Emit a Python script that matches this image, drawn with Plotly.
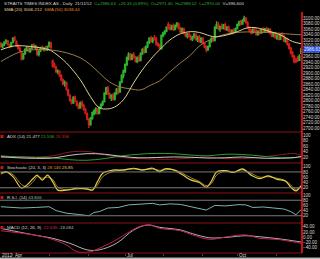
import plotly.graph_objects as go
import pandas as pd

# ---------------- data ----------------
dates = pd.bdate_range("2012-03-22", "2012-11-21")  # 175 trading days

opens = [3005,2995,3003,3014,3016,3000,2996,3012,3026,3015,2998,2988,2975,2952,2970,2986,2990,2978,2990,3000,
         2992,2995,2968,2980,2990,2986,2990,2985,2998,3008,2945,2930,2920,2905,2906,2890,2874,2860,2864,2838,
         2818,2800,2790,2812,2796,2782,2772,2790,2780,2766,2752,2730,2712,2735,2752,2760,2768,2752,2775,2786,
         2795,2826,2845,2824,2810,2818,2805,2826,2840,2830,2866,2890,2905,2930,2955,2968,2950,2965,2958,2942,
         2955,2945,2970,2985,2975,2995,3010,3025,3015,3026,3022,3005,3000,2988,3036,3045,3052,3075,3064,3060,
         3070,3058,3072,3080,3062,3050,3060,3045,3035,3040,3032,3022,3030,3040,3020,3030,3012,3026,3008,2995,
         2985,2996,3016,3025,3018,3066,3075,3060,3068,3062,3074,3058,3066,3052,3045,3055,3048,3060,3075,3085,
         3078,3090,3098,3082,3065,3055,3048,3058,3050,3040,3052,3045,3058,3052,3060,3050,3058,3044,3035,3045,
         3028,3036,3022,3040,3035,3016,3025,3004,2990,2972,2960,2945,2952,2946,2971.40]
highs = [3012,3008,3015,3022,3020,3006,3012,3030,3034,3018,3004,2996,2980,2972,2990,2998,2995,2992,3005,3008,
         3002,2998,2982,2995,3000,2995,2998,3000,3015,3012,2948,2938,2925,2912,2910,2895,2880,2872,2868,2842,
         2822,2805,2815,2818,2800,2790,2796,2800,2788,2772,2756,2735,2740,2760,2768,2775,2772,2778,2790,2800,
         2830,2850,2852,2830,2822,2826,2830,2845,2848,2870,2895,2912,2935,2960,2975,2972,2970,2975,2962,2960,
         2965,2975,2990,2995,3000,3015,3030,3035,3030,3038,3032,3012,3006,3040,3050,3056,3070,3085,3078,3075,
         3080,3076,3085,3082,3068,3065,3064,3050,3045,3048,3040,3035,3045,3044,3035,3038,3030,3030,3012,3000,
         3000,3020,3030,3032,3070,3088,3085,3072,3080,3078,3082,3070,3072,3060,3058,3062,3065,3080,3090,3092,
         3095,3108,3102,3088,3070,3060,3062,3065,3062,3055,3060,3062,3066,3064,3068,3062,3062,3052,3048,3050,
         3040,3042,3045,3048,3038,3030,3028,3008,2994,2980,2965,2955,2962,2968,2988.02]
lows = [2992,2990,2998,3005,3000,2990,2994,3008,3015,2995,2985,2975,2945,2948,2965,2978,2975,2972,2985,2990,
        2985,2962,2960,2975,2982,2978,2980,2980,2992,2988,2920,2918,2900,2895,2885,2870,2855,2850,2835,2815,
        2795,2785,2788,2795,2778,2768,2770,2778,2762,2750,2728,2700,2708,2730,2745,2750,2748,2750,2770,2780,
        2792,2820,2820,2805,2798,2800,2800,2820,2822,2828,2862,2880,2900,2925,2945,2945,2946,2952,2938,2935,
        2940,2942,2965,2970,2972,2990,3005,3010,3008,3018,3000,2995,2985,2985,3030,3038,3048,3058,3055,3055,
        3052,3055,3065,3058,3045,3045,3040,3030,3025,3028,3018,3015,3025,3018,3012,3010,3008,3005,2990,2975,
        2980,2992,3010,3012,3016,3060,3055,3050,3058,3058,3055,3052,3048,3040,3040,3042,3045,3058,3070,3072,
        3075,3085,3080,3060,3050,3040,3042,3045,3035,3035,3040,3042,3048,3045,3048,3045,3040,3030,3030,3025,
        3020,3018,3020,3030,3012,3010,3000,2985,2968,2955,2935,2935,2940,2944,2970.00]
closes = [2996,3004,3012,3018,3004,2995,3010,3026,3022,2998,2990,2980,2950,2968,2985,2992,2980,2988,3000,2995,
          2998,2968,2978,2990,2985,2990,2985,2996,3010,2992,2925,2922,2905,2908,2890,2875,2860,2866,2840,2820,
          2800,2790,2812,2798,2782,2772,2792,2780,2768,2755,2732,2712,2735,2755,2762,2770,2752,2775,2785,2795,
          2826,2845,2825,2810,2818,2805,2826,2840,2830,2866,2890,2905,2930,2955,2968,2950,2965,2958,2942,2955,
          2945,2970,2985,2975,2995,3010,3025,3015,3026,3022,3005,3000,2990,3036,3045,3052,3065,3062,3058,3070,
          3058,3072,3080,3062,3050,3060,3045,3035,3040,3032,3022,3030,3040,3020,3030,3012,3026,3008,2995,2985,
          2996,3016,3025,3018,3066,3075,3060,3068,3062,3074,3058,3066,3052,3045,3055,3048,3060,3075,3085,3078,
          3090,3098,3082,3065,3055,3048,3058,3050,3040,3052,3045,3058,3052,3060,3050,3058,3044,3035,3045,3028,
          3036,3022,3040,3035,3016,3025,3004,2990,2972,2960,2940,2942,2946,2960.30,2986.63]

sma20_idx = [0, 8, 17, 28, 31, 38, 46, 52, 57, 62, 66, 71, 77, 82, 88, 92, 98, 104, 110, 115, 121, 124, 131, 137,
             143, 148, 156, 162, 169, 174]
sma20_val = [2984, 2998, 2996, 2984, 2973, 2936, 2875, 2813, 2773, 2769, 2776, 2802, 2864, 2911, 2958, 2984, 3020,
             3042, 3050, 3047, 3035, 3031, 3038, 3050, 3064, 3064, 3050, 3038, 3014, 3006.212]
sma50_idx = [0, 5, 11, 19, 28, 38, 46, 52, 57, 63, 69, 75, 81, 86, 92, 98, 104, 110, 115, 121, 127, 134, 143, 150,
             156, 165, 174]
sma50_val = [2941, 2959, 2976, 2984, 2984, 2973, 2955, 2929, 2900, 2867, 2849, 2842, 2838, 2853, 2871, 2904, 2936,
             2965, 2998, 3020, 3035, 3045, 3049, 3047, 3047, 3042, 3038.44]

adx_idx = [0, 10, 20, 30, 40, 50, 60, 70, 80, 90, 100, 110, 120, 130, 140, 150, 160, 170, 174]
adx_val = [21, 17, 15, 16, 26, 32, 30, 22, 17, 18, 20, 19, 16, 17, 20, 16, 15, 18, 21.477]
pdi_val = [24, 20, 18, 17, 10, 8, 14, 24, 30, 33, 32, 27, 24, 30, 29, 24, 18, 17, 21.536]
mdi_val = [18, 22, 20, 24, 38, 40, 28, 18, 14, 12, 12, 16, 20, 14, 14, 19, 26, 33, 26.358]

stk_idx = [0, 3, 7, 12, 15, 19, 21, 24, 27, 30, 33, 38, 44, 50, 53, 56, 59, 65, 71, 77, 82, 88, 92, 95, 100, 105,
           110, 115, 119, 122, 125, 130, 135, 140, 145, 150, 155, 160, 165, 168, 171, 174]
stk_k = [75, 81, 62, 19, 30, 57, 68, 49, 68, 43, 11, 11, 18, 15, 11, 43, 75, 87, 87, 94, 87, 94, 81, 92, 88, 70,
         50, 40, 22, 45, 80, 85, 78, 92, 68, 55, 65, 52, 45, 22, 8, 28.146]
stk_d = [72, 78, 70, 32, 24, 45, 62, 56, 60, 52, 22, 12, 15, 16, 13, 30, 62, 82, 88, 91, 89, 91, 86, 88, 89, 76,
         58, 44, 28, 36, 68, 84, 80, 88, 75, 60, 62, 56, 47, 30, 14, 25.85]

rsi_idx = [0, 7, 12, 20, 28, 32, 38, 45, 51, 54, 57, 62, 68, 74, 82, 88, 92, 98, 104, 110, 115, 119, 124, 130, 138,
           142, 146, 152, 158, 164, 168, 171, 174]
rsi_val = [55, 52, 50, 52, 55, 40, 30, 25, 20, 33, 36, 50, 52, 62, 66, 68, 62, 66, 64, 55, 48, 42, 60, 58, 63, 62,
           52, 54, 50, 46, 36, 24, 43.806]

macd_idx = [0, 19, 28, 38, 44, 52, 57, 65, 73, 80, 86, 92, 104, 111, 121, 131, 142, 150, 160, 169, 174]
macd_val = [25, 9, -4, -29, -55, -55, -42, -17, 15, 40, 47, 34, 25, 9, -8, 2, 9, -4, -8, -17, -22.635]
sig_idx = [0, 19, 30, 40, 50, 57, 67, 77, 85, 92, 104, 111, 121, 131, 142, 150, 160, 169, 174]
sig_val = [34, 9, -4, -23, -48, -48, -23, 28, 47, 38, 28, 14, -2, 0, 6, 2, -5, -13, -18.084]

month_labels = {4: "Apr", 7: "Jul", 10: "Oct"}
price_ticks = list(range(2700, 3101, 20))
osc_ticks = [20, 40, 60, 80, 100]
macd_ticks = [-40, -20, 0, 20, 40]

# ---------------- layout geometry ----------------
W, H = 320, 259
ML, MR, MT, MB = 0, 18, 0, 6
PW, PH = W - ML - MR, H - MT - MB
bounds = [0, 132, 163, 193, 223, 253]  # panel edges, px from top


def fy(px):
    return 1 - px / PH


def fx(px):
    return px / PW


FONT = "Liberation Sans, Arial, sans-serif"
TXT = "#d8d8d8"
GREEN = "#2bb52b"
RED = "#d41c1c"
SEP = "#8c1212"

idx = list(range(len(closes)))
fig = go.Figure()

fig.add_trace(go.Candlestick(
    x=idx, open=opens, high=highs, low=lows, close=closes,
    increasing=dict(line=dict(color=GREEN, width=1.4), fillcolor=GREEN),
    decreasing=dict(line=dict(color=RED, width=1.4), fillcolor=RED),
    whiskerwidth=0, xaxis="x", yaxis="y", showlegend=False))
fig.add_trace(go.Scatter(x=sma50_idx, y=sma50_val, mode="lines", line=dict(color="#9c7b4c", width=1, shape="spline"),
                         xaxis="x", yaxis="y", showlegend=False))
fig.add_trace(go.Scatter(x=sma20_idx, y=sma20_val, mode="lines", line=dict(color="#dcd28c", width=1, shape="spline"),
                         xaxis="x", yaxis="y", showlegend=False))

for vals, col in [(mdi_val, "#8e1a22"), (pdi_val, "#2e9e2e"), (adx_val, "#c8c8c8")]:
    fig.add_trace(go.Scatter(x=adx_idx, y=vals, mode="lines", line=dict(color=col, width=1, shape="spline"),
                             xaxis="x2", yaxis="y2", showlegend=False))

fig.add_trace(go.Scatter(x=stk_idx, y=stk_d, mode="lines", line=dict(color="#a8852c", width=1, shape="spline"),
                         xaxis="x3", yaxis="y3", showlegend=False))
fig.add_trace(go.Scatter(x=stk_idx, y=stk_k, mode="lines", line=dict(color="#e0cc48", width=1.2, shape="spline"),
                         xaxis="x3", yaxis="y3", showlegend=False))

fig.add_trace(go.Scatter(x=rsi_idx, y=rsi_val, mode="lines", line=dict(color="#7fb4a4", width=1),
                         xaxis="x4", yaxis="y4", showlegend=False))

fig.add_trace(go.Scatter(x=sig_idx, y=sig_val, mode="lines", line=dict(color="#b4b4b4", width=1, shape="spline"),
                         xaxis="x5", yaxis="y5", showlegend=False))
fig.add_trace(go.Scatter(x=macd_idx, y=macd_val, mode="lines", line=dict(color="#c8204e", width=1, shape="spline"),
                         xaxis="x5", yaxis="y5", showlegend=False))

# axes
xr = [-0.5, len(closes) - 0.5]
month_pos = [i for i in range(1, len(dates)) if dates[i].month != dates[i - 1].month]
yranges = [[2685, 3165], [-2, 111], [0, 114], [-8, 108], [-60, 54.5]]
tickvals = [price_ticks, osc_ticks, osc_ticks, osc_ticks, macd_ticks]
tickfmt = [".2f", "d", "d", "d", ".2f"]
layout_axes = {}
for k in range(5):
    sx = "" if k == 0 else str(k + 1)
    layout_axes["xaxis" + sx] = dict(
        domain=[0, 1], range=xr, anchor="y" + sx, showgrid=False, zeroline=False,
        showticklabels=False, ticks="outside" if k == 4 else "", ticklen=2, tickcolor="#703030",
        tickvals=month_pos if k == 4 else None, showline=False, rangeslider=dict(visible=False),
        matches=None if k == 0 else "x", fixedrange=True)
    layout_axes["yaxis" + sx] = dict(
        domain=[fy(bounds[k + 1]), fy(bounds[k])], range=yranges[k], anchor="x" + sx, side="right",
        showgrid=False, zeroline=False, tickvals=tickvals[k], tickformat=tickfmt[k], ticks="",
        tickfont=dict(family=FONT, size=4.6, color=TXT), fixedrange=True, showline=False)

shapes = []
# panel separators
for b in bounds[1:]:
    shapes.append(dict(type="line", xref="paper", yref="paper", x0=0, x1=1, y0=fy(b), y1=fy(b),
                       line=dict(color=SEP, width=1)))
# right red edge
shapes.append(dict(type="line", xref="paper", yref="paper", x0=1, x1=1, y0=0, y1=fy(12),
                   line=dict(color="#cc1111", width=2)))
# oscillator reference lines
for ax, v in [("y3", 80), ("y3", 20), ("y4", 80), ("y4", 20)]:
    shapes.append(dict(type="line", xref="paper", yref=ax, x0=0, x1=1, y0=v, y1=v,
                       line=dict(color="#7a7a7a", width=1)))
# small red panel icons
for b in bounds[1:5]:
    shapes.append(dict(type="rect", xref="paper", yref="paper", x0=fx(0.5), x1=fx(3.5), y0=fy(b + 6), y1=fy(b + 3),
                       fillcolor="#c01818", line=dict(width=0)))
# bottom scrollbar strip
shapes.append(dict(type="rect", xref="paper", yref="paper", x0=0, x1=fx(W), y0=fy(257.5), y1=fy(259.5),
                   fillcolor="#b8b8b8", line=dict(width=0)))


def span(t, c):
    return "<span style='color:%s'>%s</span>" % (c, t)


ann = []
line1 = "  ".join([span("STRAITS TIMES INDEX.AS - Daily  21/11/12", TXT), span("C=2986.63", GREEN),
                   span("+26.33 (0.89%)", GREEN), span("O=2971.40", GREEN), span("H=2988.02", GREEN),
                   span("L=2970.00", GREEN), span("V=396,600", TXT)])
line2 = "  ".join([span("SMA (20) 3006.212", "#e3d68a"), span("SMA (50) 3038.44", "#e08a2a")])
ann.append(dict(text=line1, x=fx(2), y=fy(3.5)))
ann.append(dict(text=line2, x=fx(2), y=fy(9.5)))
ann.append(dict(text=" ".join([span("ADX (14) 21.477", TXT), span("21.536", "#2eb52e"), span("26.358", "#d02020")]),
                x=fx(5), y=fy(bounds[1] + 4.5)))
ann.append(dict(text=" ".join([span("Stochastic (20, 3, 3)", TXT), span("28.146", "#e0902a"), span("25.85", "#e0cc48")]),
                x=fx(5), y=fy(bounds[2] + 4.5)))
ann.append(dict(text=" ".join([span("R.S.I. (14)", TXT), span("43.806", "#7fc4b0")]),
                x=fx(5), y=fy(bounds[3] + 4.5)))
ann.append(dict(text=" ".join([span("MACD (12, 26, 9)", TXT), span("-22.635", "#d8206a"), span("-18.084", "#b4b4b4")]),
                x=fx(5), y=fy(bounds[4] + 4.5)))
for a in ann:
    a.update(xref="paper", yref="paper", xanchor="left", yanchor="middle", showarrow=False,
             font=dict(family=FONT, size=4.4, color=TXT))

# x-axis labels (left-aligned at month ticks)
ann.append(dict(text="2012", x=-0.5, xref="x5", y=fy(256), yref="paper", xanchor="left", yanchor="middle",
                showarrow=False, font=dict(family=FONT, size=4.6, color=TXT)))
for i in month_pos:
    m = dates[i].month
    if m in month_labels:
        ann.append(dict(text=month_labels[m], x=i, xref="x5", y=fy(256), yref="paper", xanchor="left",
                        yanchor="middle", showarrow=False, font=dict(family=FONT, size=4.6, color=TXT)))

# current price marker
ann.append(dict(text="2986.63", x=1, xref="paper", y=closes[-1], yref="y", xanchor="left", yanchor="middle",
                showarrow=False, bgcolor="#2a4ee8", borderpad=0, xshift=1,
                font=dict(family=FONT, size=4.6, color="#e8f0ff")))

fig.update_layout(width=W, height=H, margin=dict(l=ML, r=MR, t=MT, b=MB), paper_bgcolor="#000000",
                  plot_bgcolor="#000000", shapes=shapes, annotations=ann, showlegend=False, **layout_axes)

fig.write_html("out.html")
